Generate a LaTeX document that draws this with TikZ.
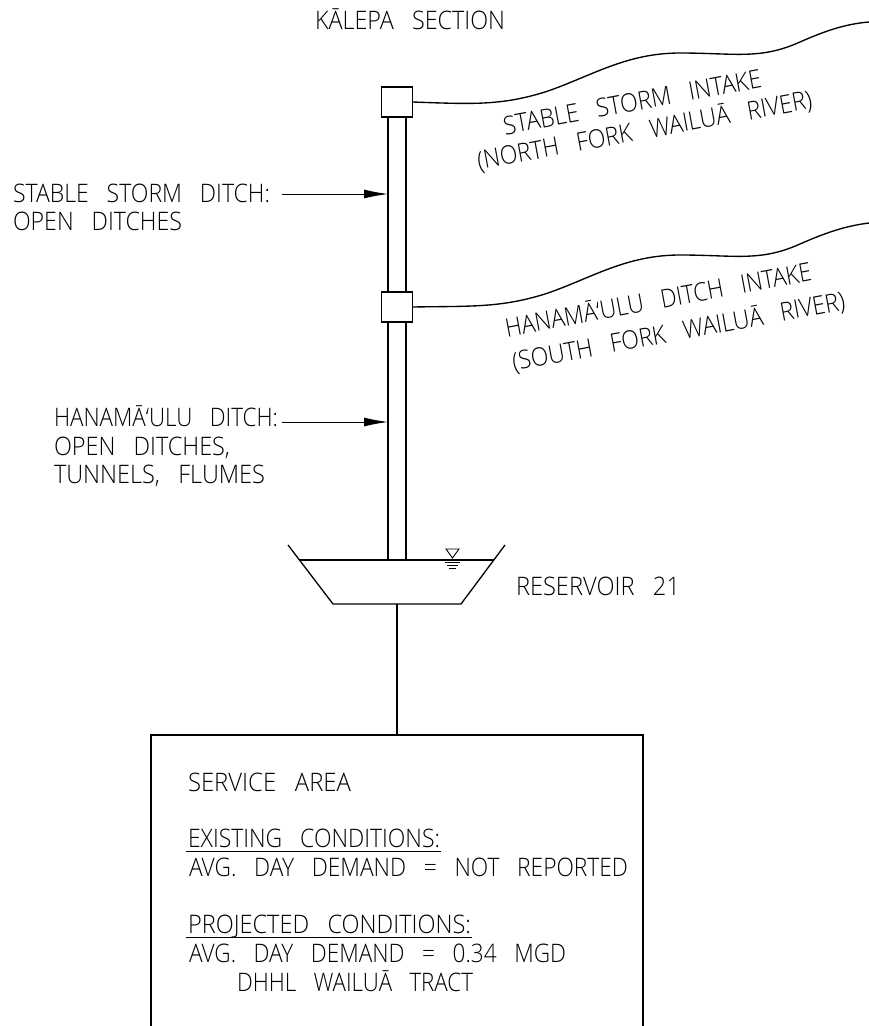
\documentclass[tikz,border=0pt]{standalone}
\usepackage{graphicx}
\usepackage{fontspec}
\setmainfont{Open Sans Light}
\usetikzlibrary{arrows.meta}
\newcommand{\fitw}[2]{\resizebox{#1pt}{\height}{#2}}
\newcommand{\gp}{~~~}
\tikzset{
  x=1pt,y=-1pt,
  lab/.style={anchor=base west,inner sep=0pt,outer sep=0pt,font=\fontsize{25.5}{25.5}\selectfont,text=black},
  pipe/.style={draw=black,line width=1.35pt},
  thinln/.style={draw=black,line width=1.3pt},
  lead/.style={draw=black,line width=1pt,-{Latex[length=24pt,width=9pt]}},
  intake/.style={draw=black,fill=white,line width=1.4pt,minimum width=31pt,minimum height=30pt,inner sep=0pt,outer sep=0pt},
}
\begin{document}
\begin{tikzpicture}
\useasboundingbox[fill=white] (0,0) rectangle (869,1026);
% pipe
\coordinate (pt) at (388,102); \coordinate (pb) at (388,560);
\coordinate (qt) at (406,102); \coordinate (qb) at (406,560);
\draw[pipe] (pt) -- (pb);
\draw[pipe] (qt) -- (qb);
\node[intake] (i1) at (397,102) {};
\node[intake] (i2) at (397,307) {};
% rivers
\coordinate (r1) at (869,22);
\coordinate (r2) at (869,223);
\draw[pipe] (i1.east) .. controls (470,104) and (500,106) .. (545,92) .. controls (590,77) and (625,53) .. (680,53) .. controls (735,53) and (760,60) .. (800,42) .. controls (825,31) and (845,24) .. (r1);
\draw[pipe] (i2.east) .. controls (470,306) and (500,308) .. (545,294) .. controls (590,279) and (625,255) .. (680,255) .. controls (735,255) and (760,262) .. (800,244) .. controls (825,233) and (845,226) .. (r2);
% leaders
\node[lab] (t0) at (315,29) {\fitw{190}{KĀLEPA\gp SECTION}};
\node[lab] (t1) at (13,202) {\fitw{257}{STABLE\gp STORM\gp DITCH:}};
\node[lab] (t2) at (13,230) {\fitw{169}{OPEN\gp DITCHES}};
\node[lab] (t3) at (54,426) {\fitw{224}{HANAMĀ‘ULU\gp DITCH:}};
\node[lab] (t4) at (54,455) {\fitw{176}{OPEN\gp DITCHES,}};
\node[lab] (t5) at (54,483) {\fitw{211}{TUNNELS,\gp FLUMES}};
\coordinate (a1) at (282,194); \coordinate (a1e) at (388,194);
\coordinate (a2) at (282,422); \coordinate (a2e) at (388,422);
\draw[lead] (a1) -- (a1e);
\draw[lead] (a2) -- (a2e);
% rotated
\node[lab,rotate=10.5] (t6) at (505,135) {\fitw{262}{STABLE\gp STORM\gp INTAKE}};
\node[lab,rotate=10.5] (t7) at (479,170) {\fitw{340}{(NORTH\gp FORK\gp WAILUĀ\gp RIVER)}};
\node[lab,rotate=10.5] (t8) at (507,337) {\fitw{311}{HANAMĀ‘ULU\gp DITCH\gp INTAKE}};
\node[lab,rotate=10.5] (t9) at (514,371) {\fitw{338}{(SOUTH\gp FORK\gp WAILUĀ\gp RIVER)}};
% reservoir
\coordinate (rl) at (288,545); \coordinate (rr) at (505,545);
\coordinate (rbl) at (333,604); \coordinate (rbr) at (461,604);
\coordinate (wl) at (299,560); \coordinate (wr) at (494,560);
\draw[thinln] (rl) -- (rbl) -- (rbr) -- (rr);
\draw[thinln] (wl) -- (wr);
\draw[draw=black,line width=0.9pt] (446,549) -- (459,549) -- (452.5,558) -- cycle;
\draw[draw=black,line width=0.9pt] (445,562) -- (460,562) (447,565) -- (458,565) (449,568) -- (456,568);
\node[lab] (t10) at (516,595) {\fitw{164}{RESERVOIR\gp 21}};
% service area
\coordinate (sl) at (151,1026); \coordinate (sr) at (643,1026);
\coordinate (stl) at (151,735); \coordinate (str) at (643,735);
\coordinate (stem) at (397,735); \coordinate (stemt) at (397,604);
\draw[thinln] (stemt) -- (stem);
\draw[thinln] (sl) -- (stl) -- (str) -- (sr);
\node[lab] (t11) at (188,791) {\fitw{163}{SERVICE\gp AREA}};
\node[lab] (t12) at (188,847) {\fitw{252}{EXISTING\gp CONDITIONS:}};
\node[lab] (t13) at (189,876) {\fitw{439}{AVG.\gp DAY\gp DEMAND\gp =\gp NOT\gp REPORTED}};
\node[lab] (t14) at (188,933) {\fitw{283}{PROJECTED\gp CONDITIONS:}};
\node[lab] (t15) at (189,962) {\fitw{377}{AVG.\gp DAY\gp DEMAND\gp =\gp 0.34\gp MGD}};
\node[lab] (t16) at (237,991) {\fitw{236}{DHHL\gp WAILUĀ\gp TRACT}};
\draw[draw=black,line width=1pt] (t12.base west)++(-2,4) -- ++(255,0);
\draw[draw=black,line width=1pt] (t14.base west)++(-2,4) -- ++(286,0);
\end{tikzpicture}
\end{document}
